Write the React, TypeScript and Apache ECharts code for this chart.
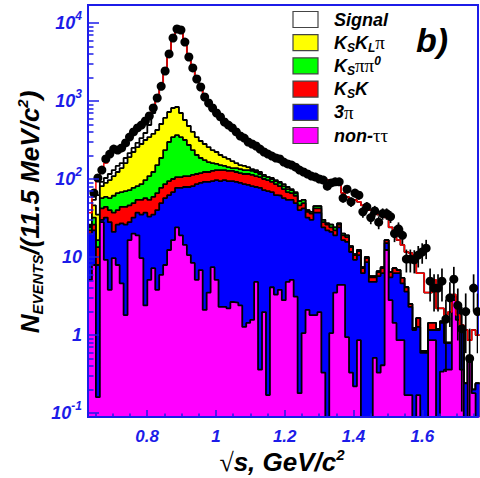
import React, { useEffect, useRef } from 'react';
import * as echarts from 'echarts';

// ---- axis set-up ----
const binStart = 0.628; // GeV, left edge of first bin
const binWidth = 0.0115; // 11.5 MeV bins
const xMin = 0.628;
const xMax = 1.762;
const yMin = 0.089;
const yMax = 17000;

const xTickValues = [0.8, 1, 1.2, 1.4, 1.6];
const xMinorTickValues = [0.65, 0.7, 0.75, 0.85, 0.9, 0.95, 1.05, 1.1, 1.15, 1.25, 1.3, 1.35, 1.45, 1.5, 1.55, 1.65, 1.7, 1.75];
const yTickValues = [0.1, 1, 10, 100, 1000, 10000];
const yMinorTickValues = [0.2, 0.3, 0.4, 0.5, 0.6, 0.7, 0.8, 0.9, 2, 3, 4, 5, 6, 7, 8, 9, 20, 30, 40, 50, 60, 70, 80, 90,
  200, 300, 400, 500, 600, 700, 800, 900, 2000, 3000, 4000, 5000, 6000, 7000, 8000, 9000];

// ---- data (events per bin) ----
const dataPoints: (number | null)[] = [
  null, 66, 103, 130, 181, 209, 242, 235, 250, 290,
  345, 401, 451, 492, 554, 642, 813, 1092, 1540, 2425,
  4010, 6420, 8375, 8130, 5700, 3665, 2650, 1914, 1512, 1125,
  943, 813, 702, 624, 538, 492, 451, 401, 356, 335,
  298, 281, 265, 242, 222, 209, 197, 186, 181, 165,
  156, 151, 142, 130, 123, 116, 109, 106, 100, 97,
  81, 89, 92, 92, 57, 74, 51, 66, 62, 38,
  44, 32, 39, 28, 36, 36, 33, 20, 23, 19,
  9.4, 9.4, 9.2, 10.6, 11.6, 13, 4.9, 4.0, 4.0, 4.9,
  1.6, 3.0, 5.2, 2.4, 1.2, 2.0, 0.5, 4.0, 2.0,
];

// total MC (red line)
const totalMC = [
  37, 62, 97, 142, 160, 203, 235, 235, 257, 290,
  335, 389, 438, 492, 571, 662, 813, 1090, 1560, 2425,
  4010, 6250, 8130, 8130, 5700, 3665, 2650, 1914, 1512, 1160,
  943, 813, 702, 624, 554, 492, 451, 401, 366, 335,
  307, 281, 265, 242, 228, 209, 197, 186, 175, 165,
  156, 147, 138, 130, 123, 119, 113, 109, 103, 100,
  97, 94, 92, 89, 66, 59, 54, 54, 51, 46,
  44, 40, 38, 35, 33, 32, 24, 21, 16.5, 14.3,
  11.6, 11.3, 10.6, 6.2, 6.2, 3.5, 3.5, 5.1, 2.2, 2.2,
  1.8, 1.97, 3.3, 1.8, 1.34, 1.16, 0.86, 1.16, 1.0,
];

// cumulative stack heights (each includes all layers below it)
const signalTop = [
  26, 54, 62, 92, 103, 116, 130, 147, 160, 186,
  215, 250, 290, 335, 389, 492, 702, 1030, 1560, 2425,
  4010, 6250, 8130, 8130, 5700, 3665, 2650, 1914, 1512, 1160,
  943, 813, 702, 624, 554, 492, 451, 401, 366, 335,
  307, 281, 265, 242, 228, 209, 197, 186, 175, 165,
  156, 147, 138, 130, 123, 119, 113, 109, 103, 100,
  97, 94, 92, 89, 66, 59, 54, 54, 51, 46,
  44, 40, 38, 35, 33, 32, 24, 21, 16.5, 14.3,
  11.6, 11.3, 10.6, 6.2, 6.2, 3.5, 3.5, 5.1, 2.2, 2.2,
  1.8, 1.97, 3.3, 1.8, 1.34, 1.16, 0.86, 1.16, 1.0,
];

const kskLpiTop = [
  25, 46, 35, 81, 89, 97, 109, 123, 138, 160,
  191, 222, 257, 281, 316, 345, 378, 425, 507, 606,
  723, 813, 838, 702, 571, 478, 401, 345, 307, 281,
  257, 235, 222, 203, 191, 181, 170, 160, 151, 147,
  142, 134, 130, 123, 113, 106, 103, 97, 92, 86,
  79, 74, 68, 52, 54, 40, 38, 45, 45, 30,
  27, 26, 24, 27, 20, 19, 13.8, 10.9, 12.3, 7.4,
  10, 5.7, 5.7, 6.6, 7.4, 16.5, 6.4, 7.2, 6.8, 5.4,
  4.1, 2.5, 1.23, 1.65, 0.62, 0.62, 1.43, 1.43, 1.2, 1.5,
  0.8, 0.8, 3.1, 2.4, 1.27, 0.24, 0.51, 0.2, 0.24,
];

const kspipi0Top = [
  24, 32, 16.5, 57, 59, 57, 61, 66, 68, 70,
  72, 77, 81, 86, 97, 109, 123, 151, 186, 235,
  298, 345, 366, 345, 316, 273, 235, 203, 186, 175,
  165, 160, 156, 151, 147, 142, 138, 138, 134, 130,
  130, 127, 123, 116, 109, 106, 100, 94, 89, 81,
  74, 72, 66, 52, 54, 40, 38, 45, 45, 30,
  27, 26, 24, 27, 20, 19, 13.8, 10.9, 12.3, 7.4,
  10, 5.7, 5.7, 6.6, 7.4, 16.5, 6.4, 7.2, 6.8, 5.4,
  4.1, 2.5, 1.23, 1.65, 0.62, 0.62, 1.43, 1.43, 1.2, 1.5,
  0.8, 0.8, 3.1, 2.4, 1.27, 0.24, 0.51, 0.2, 0.24,
];

const kskTop = [
  22, 26, 13.4, 42, 44, 40, 37, 40, 44, 44,
  46, 49, 54, 54, 57, 54, 59, 66, 77, 86,
  94, 100, 106, 106, 109, 109, 113, 116, 119, 123,
  123, 127, 130, 130, 130, 127, 127, 123, 119, 116,
  116, 113, 109, 106, 100, 97, 92, 86, 81, 74,
  68, 66, 61, 46, 49, 38, 36, 42, 42, 28,
  26, 24, 22, 26, 19, 18, 13.4, 10.6, 11.9, 7.2,
  9.7, 5.5, 5.5, 6.4, 7.2, 16.5, 6.4, 7.2, 6.8, 5.4,
  4.1, 2.5, 1.23, 1.65, 0.62, 0.62, 1.43, 1.43, 1.2, 1.5,
  0.8, 0.8, 3.1, 2.4, 1.27, 0.24, 0.51, 0.2, 0.24,
];

const threePiTop = [
  20, 22, 7.9, 30, 32, 28, 21, 26, 27, 26,
  28, 32, 37, 35, 37, 33, 35, 40, 49, 57,
  62, 68, 77, 77, 79, 79, 81, 86, 89, 92,
  92, 94, 97, 94, 97, 94, 94, 92, 89, 86,
  84, 81, 79, 77, 72, 70, 68, 62, 61, 57,
  54, 54, 49, 40, 42, 32, 30, 37, 37, 24,
  22, 21, 19, 24, 16.5, 15.6, 11.6, 9.2, 10.6, 6.2,
  8.6, 4.8, 4.8, 5.7, 6.2, 15.1, 5.5, 6.2, 6.2, 4.6,
  3.6, 2.3, 1.16, 1.27, 0.59, 0.59, 1.16, 1.16, 1.16, 1.43,
  0.79, 0.79, 3.1, 2.4, 1.27, 0.24, 0.51, 0.2, 0.24,
];

const nonTauTau = [
  5.1, 7.9, 0.16, 28, 9.2, 3.8, 9.7, 7.9, 4.6, 1.8,
  16.5, 20, 19, 9.7, 2.4, 5.1, 7.2, 3.8, 5.9, 7.9,
  12.3, 16.5, 24, 19, 14.3, 10.6, 8.4, 5.1, 6.8, 2.1,
  3.5, 7.4, 5.1, 2.3, 2.3, 2.2, 2.65, 2.6, 2.4, 1.27,
  1.43, 1.56, 4.8, 0.36, 1.97, 0.17, 4.1, 3.3, 3.8, 2.8,
  4.8, 5.1, 3.1, 0.18, 1.06, 2.1, 1.8, 1.8, 1.97, 0.33,
  0, 1.06, 3.5, 4.4, 4.4, 0.94, 0.33, 0.22, 0.86, 0,
  0, 0, 0.51, 0.33, 0.41, 12.3, 2.8, 1.43, 0.86, 0.86,
  0.17, 0.17, 0, 0.17, 0, 0, 0.86, 0.86, 0, 0.34,
  0.36, 0.36, 2.8, 1.56, 0.36, 0, 0.48, 0.18, 0,
];

const layerNames = ['Signal', 'KsKLpi', 'Kspipi0', 'KsK', '3pi', 'non-tautau'];
const layerColors = ['#ffffff', '#ffff00', '#00ff00', '#ff0000', '#0000ff', '#ff00ff'];
const layerValues = [signalTop, kskLpiTop, kspipi0Top, kskTop, threePiTop, nonTauTau];
const legendLabels = [
  '{a|Signal}',
  '{a|K}{s|S}{a|K}{s|L}{g|π}',
  '{a|K}{s|S}{g|ππ}{p|0}',
  '{a|K}{s|S}{a|K}',
  '{a|3}{g|π}',
  '{a|non-}{g|ττ}',
];

const BLUE = '#1c1ce8';
const SANS = '"Liberation Sans", Arial, Helvetica, sans-serif';
const SERIF = '"Liberation Serif", "DejaVu Serif", serif';
const FLOOR = 0.01;

export default function App() {
  const ref = useRef<HTMLDivElement>(null);

  useEffect(() => {
    if (!ref.current) return;
    const chart = echarts.init(ref.current, undefined, { renderer: 'svg' });
    const N = nonTauTau.length;
    const edges = Array.from({ length: N + 1 }, (_, i) => +(binStart + i * binWidth).toFixed(5));
    const centers = edges.slice(0, N).map((e) => +(e + binWidth / 2).toFixed(5));
    const stepData = (vals: number[]) => {
      const pts = vals.map((v, i) => [edges[i], Math.max(v, FLOOR)]);
      pts.push([edges[N], Math.max(vals[N - 1], FLOOR)]);
      return pts;
    };

    const pointData: number[][] = [];
    const errData: number[][] = [];
    dataPoints.forEach((v, i) => {
      if (v == null) return;
      const e = Math.sqrt(v);
      pointData.push([centers[i], v]);
      errData.push([centers[i], Math.max(v - e, yMin), v + e]);
    });

    const tickLine = { color: BLUE, width: 1.5 };
    const labelFont = { fontFamily: SANS, fontWeight: 'bold' as const, fontStyle: 'italic' as const, color: BLUE };

    const richLegend = {
      a: { fontFamily: SANS, fontWeight: 'bold', fontStyle: 'italic', fontSize: 18, color: '#000', lineHeight: 22 },
      s: { fontFamily: SANS, fontWeight: 'bold', fontStyle: 'italic', fontSize: 12, color: '#000', lineHeight: 12, verticalAlign: 'bottom' },
      p: { fontFamily: SANS, fontWeight: 'bold', fontStyle: 'italic', fontSize: 12, color: '#000', lineHeight: 12, verticalAlign: 'top' },
      g: { fontFamily: SERIF, fontSize: 19, color: '#000', lineHeight: 22 },
    };

    const graphics: any[] = [];
    legendLabels.forEach((lab, k) => {
      const yc = 19.5 + 23.2 * k;
      graphics.push({
        type: 'rect', z: 100,
        shape: { x: 293, y: yc - 8, width: 25, height: 16 },
        style: { fill: layerColors[k], stroke: '#444', lineWidth: 1.2 },
      });
      graphics.push({
        type: 'text', z: 100, x: 334, y: yc,
        style: { text: lab, rich: richLegend, align: 'left', verticalAlign: 'middle' },
      });
    });
    graphics.push({
      type: 'text', z: 100, x: 416, y: 40,
      style: { text: 'b)', fontFamily: SANS, fontWeight: 'bold', fontStyle: 'italic', fontSize: 34, fill: '#000', align: 'left', verticalAlign: 'middle' },
    });
    graphics.push({
      type: 'text', z: 100, x: 282, y: 462,
      style: {
        text: '{r|√}{a|s, GeV/c}{p|2}', align: 'center', verticalAlign: 'middle',
        rich: {
          r: { fontFamily: SERIF, fontSize: 26, color: '#000', lineHeight: 30 },
          a: { fontFamily: SANS, fontWeight: 'bold', fontStyle: 'italic', fontSize: 26, color: '#000', lineHeight: 30 },
          p: { fontFamily: SANS, fontWeight: 'bold', fontStyle: 'italic', fontSize: 15, color: '#000', lineHeight: 15, verticalAlign: 'top' },
        },
      },
    });
    graphics.push({
      type: 'text', z: 100, x: 30, y: 212, rotation: Math.PI / 2,
      style: {
        text: '{a|N}{s|EVENTS}{a|/(11.5 MeV/c}{p|2}{a|)}', align: 'center', verticalAlign: 'middle',
        rich: {
          a: { fontFamily: SANS, fontWeight: 'bold', fontStyle: 'italic', fontSize: 26, color: '#000', lineHeight: 30 },
          s: { fontFamily: SANS, fontWeight: 'bold', fontStyle: 'italic', fontSize: 15, color: '#000', lineHeight: 15, verticalAlign: 'bottom' },
          p: { fontFamily: SANS, fontWeight: 'bold', fontStyle: 'italic', fontSize: 15, color: '#000', lineHeight: 15, verticalAlign: 'top' },
        },
      },
    });

    const option: any = {
      animation: false,
      backgroundColor: '#ffffff',
      grid: { left: 88, right: 2, top: 5, bottom: 61, show: true, borderColor: BLUE, borderWidth: 2, backgroundColor: 'transparent', outerBoundsMode: 'none' },
      xAxis: [
        {
          type: 'value', min: xMin, max: xMax, position: 'bottom', z: 20,
          axisLine: { show: true, lineStyle: { color: BLUE, width: 2 } },
          axisTick: { show: true, inside: true, length: 7, customValues: xTickValues, lineStyle: tickLine },
          axisLabel: { ...labelFont, fontSize: 17, margin: 11, customValues: xTickValues, formatter: (v: number) => String(+v.toFixed(2)) },
          splitLine: { show: false },
        },
        {
          type: 'value', min: xMin, max: xMax, position: 'bottom', z: 20,
          axisLine: { show: false },
          axisTick: { show: true, inside: true, length: 3.5, customValues: xMinorTickValues, lineStyle: tickLine },
          axisLabel: { show: false },
          splitLine: { show: false },
        },
      ],
      yAxis: [
        {
          type: 'log', logBase: 10, min: yMin, max: yMax, position: 'left', z: 20,
          axisLine: { show: true, lineStyle: { color: BLUE, width: 2 } },
          axisTick: { show: true, inside: true, length: 11, customValues: yTickValues, lineStyle: tickLine },
          axisLabel: {
            customValues: yTickValues, margin: 6,
            formatter: (v: number) => {
              const e = Math.round(Math.log10(v));
              if (e === 0) return '{b|1}';
              if (e === 1) return '{b|10}';
              return `{b|10}{s|${e}}`;
            },
            rich: {
              b: { ...labelFont, fontSize: 18, lineHeight: 26 },
              s: { ...labelFont, fontSize: 12, lineHeight: 12, verticalAlign: 'top' },
            },
          },
          splitLine: { show: false },
        },
        {
          type: 'log', logBase: 10, min: yMin, max: yMax, position: 'left', z: 20,
          axisLine: { show: false },
          axisTick: { show: true, inside: true, length: 5.5, customValues: yMinorTickValues, lineStyle: tickLine },
          axisLabel: { show: false },
          splitLine: { show: false },
        },
      ],
      graphic: graphics,
      series: [
        ...layerValues.map((vals, k) => ({
          type: 'line', name: layerNames[k], step: 'end', data: stepData(vals),
          xAxisIndex: 0, yAxisIndex: 0, z: 2 + k,
          symbol: 'none', showSymbol: false, clip: true, silent: true,
          lineStyle: { color: '#000', width: 1.8 },
          areaStyle: { color: layerColors[k], opacity: 1, origin: 'start' },
        })),
        {
          type: 'line', name: 'total', step: 'end', data: stepData(totalMC),
          xAxisIndex: 0, yAxisIndex: 0, z: 10,
          symbol: 'none', showSymbol: false, clip: true, silent: true,
          lineStyle: { color: '#ff0000', width: 1.5 },
        },
        {
          type: 'custom', name: 'errors', data: errData, xAxisIndex: 0, yAxisIndex: 0, z: 11,
          clip: true, silent: true, encode: { x: 0, y: [1, 2] },
          renderItem: (params: any, api: any) => {
            const x = api.value(0);
            const lo = api.coord([x, api.value(1)]);
            const hi = api.coord([x, api.value(2)]);
            return {
              type: 'line',
              shape: { x1: lo[0], y1: lo[1], x2: hi[0], y2: hi[1] },
              style: { stroke: '#000', lineWidth: 1.7 },
            };
          },
        },
        {
          type: 'scatter', name: 'data', data: pointData, xAxisIndex: 0, yAxisIndex: 0, z: 12,
          symbol: 'circle', symbolSize: 9, silent: true, clip: true,
          itemStyle: { color: '#000', opacity: 1 },
        },
      ],
    };

    chart.setOption(option);
    return () => chart.dispose();
  }, []);

  return (
    <div
      ref={ref}
      style={{ position: 'fixed', left: 0, top: 0, width: 480, height: 478, background: '#fff' }}
    />
  );
}
